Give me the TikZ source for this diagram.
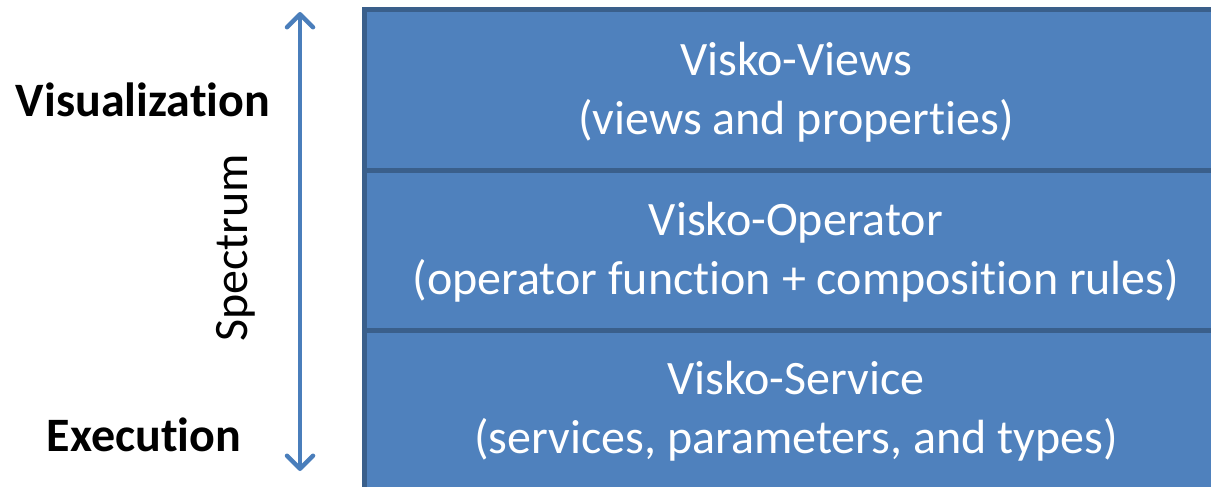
\documentclass[tikz,border=0pt]{standalone}
\usepackage{fontspec}
\setmainfont{Carlito}[Ligatures=NoCommon]
\usetikzlibrary{arrows.meta}
\definecolor{layerfill}{HTML}{4F81BD}
\definecolor{layeredge}{HTML}{3A5F8B}
\definecolor{arrowblue}{HTML}{4A7EBB}
\tikzset{
  layer/.style={draw=layeredge, line width=5pt, fill=layerfill},
  layertext/.style={text=white, align=center, font=\fontsize{48}{59}\selectfont},
  endlabel/.style={font=\fontsize{48}{58}\selectfont\bfseries},
  spectrumarrow/.style={draw=arrowblue, line width=4.5pt,
    {Straight Barb[length=13pt, width=26pt, line cap=round, line join=round]}-{Straight Barb[length=13pt, width=26pt, line cap=round, line join=round]}}
}
\begin{document}
\begin{tikzpicture}[x=1pt, y=-1pt]
  \useasboundingbox (0,0) rectangle (1211,487);
  \begin{scope}
    \clip (0,0) rectangle (1211,487);
    % the three stacked layers
    \draw[layer] (364,10) rectangle (1240,170);
    \draw[layer] (364,170) rectangle (1240,330);
    \draw[layer] (364,330) rectangle (1240,500);
  \end{scope}
  \node[layertext] (views) at (796,92) {Visko-Views\\(views and properties)};
  \node[layertext] (operator) at (796,252) {Visko-Operator\\(operator function + composition rules)};
  \node[layertext] (service) at (796,411) {Visko-Service\\(services, parameters, and types)};
  % spectrum axis
  \coordinate (top) at (300,12);
  \coordinate (bottom) at (300,471);
  \draw[spectrumarrow] (bottom) -- (top);
  \node[font=\fontsize{48}{58}\selectfont, rotate=90] (spectrum) at (236,248) {Spectrum};
  \node[endlabel] (vis) at (143,100) {Visualization};
  \node[endlabel] (exec) at (144,435) {Execution};
\end{tikzpicture}
\end{document}
